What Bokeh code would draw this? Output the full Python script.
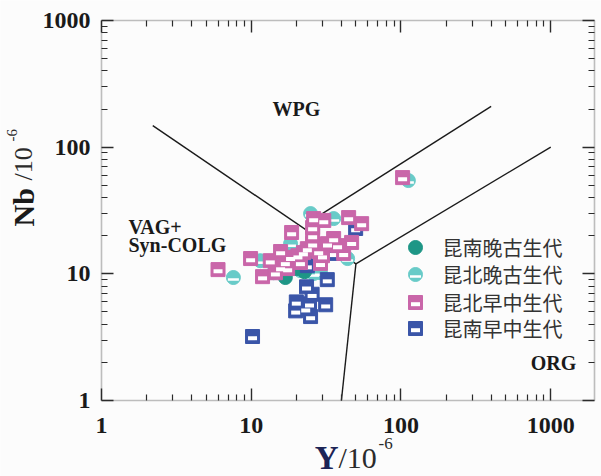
import math
import numpy as np
from bokeh.plotting import figure
from bokeh.models import LogAxis, FixedTicker, Label, Range1d, BoxAnnotation
from bokeh.embed import file_html
from bokeh.resources import INLINE

# ---- Y (ppm) and Nb (ppm) by sample group ----
kn_late_pz_y = [16.9, 23.4, 22.7, 25.7, 20.1]
kn_late_pz_nb = [9.35, 11.9, 10.4, 12.3, 11.0]

kb_late_pz_y = [7.6, 112.0, 11.5, 14.1, 18.3, 22.0, 24.1, 26.1, 29.0, 35.5,
                40.7, 44.0, 16.7, 21.3, 24.9, 18.9, 15.2]
kb_late_pz_nb = [9.35, 54.5, 12.7, 10.2, 17.3, 15.0, 11.2, 10.05, 10.2, 27.3,
                 16.1, 13.2, 10.2, 10.6, 29.9, 11.6, 12.3]

kb_early_mz_y = [6.0, 9.9, 11.9, 18.6, 26.1, 30.5, 44.7, 54.6, 25.7, 35.5,
                 46.8, 29.0, 29.9, 41.4, 15.7, 13.4, 15.7, 18.3, 20.5, 23.7,
                 25.7, 32.3, 37.7, 14.5, 17.5, 21.3, 25.7, 102.5, 22.3, 16.9, 28.2]
kb_early_mz_nb = [10.8, 13.2, 9.5, 21.2, 27.3, 26.4, 27.8, 24.9, 20.1, 19.0,
                  17.7, 12.1, 13.9, 14.5, 15.0, 12.7, 11.2, 13.5, 13.9, 15.8,
                  17.3, 17.3, 16.7, 10.2, 11.0, 12.3, 23.2, 57.5, 14.7, 12.3, 15.0]

kn_early_mz_y = [10.2, 23.4, 32.2, 25.5, 20.0, 24.5, 31.4, 19.8, 23.1, 24.9,
                 49.8, 35.5, 23.7]
kn_early_mz_nb = [3.2, 7.9, 9.0, 6.9, 6.0, 5.8, 5.7, 5.1, 5.3, 4.6,
                  22.8, 14.5, 11.6]

legend_labels = ["昆南晚古生代", "昆北晚古生代", "昆北早中生代", "昆南早中生代"]

# ---- Pearce (1984) Nb-Y field boundaries ----
bound_vag_wpg_y, bound_vag_wpg_nb = [2.2, 50], [148, 12]
bound_wpg_org_y, bound_wpg_org_nb = [50, 1000], [12, 100]
bound_vag_org_y, bound_vag_org_nb = [50, 40], [12, 1]
bound_aorg_y, bound_aorg_nb = [30, 400], [30, 210]

major_ticks = [1, 10, 100, 1000]
tick_labels = ["1", "10", "100", "1000"]
minor_ticks = [m * d for d in (1, 10, 100) for m in range(2, 10)]

# ---- layout: the plot box sits inside a frame that spans the whole canvas ----
W, H = 601, 476
BOX_L, BOX_R, BOX_T, BOX_B = 101, 594, 20, 400
X_MIN, X_MAX, Y_MIN, Y_MAX = 1, 1960, 1, 1000
px_dec_x = (BOX_R - BOX_L) / math.log10(X_MAX / X_MIN)
px_dec_y = (BOX_B - BOX_T) / math.log10(Y_MAX / Y_MIN)


def at_screen(px, py):
    """Data coordinates of a canvas pixel."""
    return (X_MIN * 10 ** ((px - BOX_L) / px_dec_x),
            Y_MIN * 10 ** ((BOX_B - py) / px_dec_y))


def shift_y(vals, px):
    """Move log-scale values down by px screen pixels."""
    return list(np.asarray(vals) * 10 ** (-px / px_dec_y))


x0, y0 = at_screen(0, H)
x1, y1 = at_screen(W, 0)

BG = "#fcfcfc"
INK = "#2b2b2b"
SERIF = "Liberation Serif"

p = figure(width=W, height=H, x_axis_type="log", y_axis_type="log",
           x_axis_location=None, y_axis_location=None,
           x_range=Range1d(x0, x1), y_range=Range1d(y0, y1),
           output_backend="svg", toolbar_location=None,
           min_border=0, min_border_left=0, min_border_right=0,
           min_border_top=0, min_border_bottom=0,
           background_fill_color=BG, border_fill_color=BG)
p.grid.visible = False
p.outline_line_color = None

ticker = FixedTicker(ticks=major_ticks, minor_ticks=minor_ticks)


def box_axis(side, loc):
    ax = LogAxis(ticker=ticker, fixed_location=loc)
    ax.major_tick_in = 12
    ax.major_tick_out = 0
    ax.minor_tick_in = 6
    ax.minor_tick_out = 0
    ax.major_tick_line_color = INK
    ax.minor_tick_line_color = INK
    ax.major_tick_line_width = 1.4
    ax.minor_tick_line_width = 1.2
    ax.axis_line_color = None
    ax.major_label_text_font_size = "0px"
    ax.major_label_text_alpha = 0
    ax.major_label_standoff = 0
    p.add_layout(ax, side)


box_axis("below", Y_MIN)
box_axis("left", X_MIN)
box_axis("above", Y_MAX)
box_axis("right", X_MAX)

p.add_layout(BoxAnnotation(left=X_MIN, right=X_MAX, bottom=Y_MIN, top=Y_MAX,
                           fill_alpha=0, line_color=INK, line_width=1.6))

# tick labels
for t, s in zip(major_ticks, tick_labels):
    p.add_layout(Label(x=t, y=Y_MIN, y_offset=-17, text=s, text_align="center",
                       text_baseline="top", text_font=SERIF, text_font_style="bold",
                       text_font_size="24px", text_color="#1a1a1a"))
    p.add_layout(Label(x=X_MIN, y=t, x_offset=-11, text=s, text_align="right",
                       text_baseline="middle", text_font=SERIF, text_font_style="bold",
                       text_font_size="24px", text_color="#1a1a1a"))

# field boundaries
for bx, by in [(bound_vag_wpg_y, bound_vag_wpg_nb), (bound_wpg_org_y, bound_wpg_org_nb),
               (bound_vag_org_y, bound_vag_org_nb), (bound_aorg_y, bound_aorg_nb)]:
    p.line(bx, by, line_color="#1a1a1a", line_width=1.4)

# field names
for txt, (px, py), align in [("WPG", (296, 108), "center"), ("VAG+", (128, 226), "left"),
                             ("Syn-COLG", (128, 244), "left"), ("ORG", (553, 362), "center")]:
    lx, ly = at_screen(px, py)
    p.add_layout(Label(x=lx, y=ly, text=txt, text_align=align, text_baseline="middle",
                       text_font=SERIF, text_font_style="bold", text_font_size="20px",
                       text_color="#1a1a1a"))

# marker styles
C_DARK_TEAL = "#1e9686"
C_LIGHT_TEAL = "#68cbc8"
C_PINK = "#c966a9"
C_BLUE = "#3a55a8"


def circle_mark(xs, ys, color, band):
    p.scatter(xs, ys, marker="circle", size=14, fill_color=color, line_color=color,
              line_width=1)
    if band:
        p.scatter(xs, shift_y(ys, 2), marker="dash", size=11, line_color="white",
                  line_width=2.5)


def square_mark(xs, ys, color):
    p.scatter(xs, ys, marker="square", size=14, fill_color=color, line_color=color,
              line_width=1)
    p.scatter(xs, shift_y(ys, 1.7), marker="dash", size=9, line_color="white",
              line_width=4)


circle_mark(kb_late_pz_y, kb_late_pz_nb, C_LIGHT_TEAL, True)
circle_mark(kn_late_pz_y, kn_late_pz_nb, C_DARK_TEAL, False)
square_mark(kn_early_mz_y, kn_early_mz_nb, C_BLUE)
square_mark(kb_early_mz_y, kb_early_mz_nb, C_PINK)

# legend
rows_py = [247, 274, 302, 328]
key_px, text_px = 415, 442
for i, (lab, py) in enumerate(zip(legend_labels, rows_py)):
    kx, ky = at_screen(key_px, py)
    if i == 0:
        circle_mark([kx], [ky], C_DARK_TEAL, False)
    elif i == 1:
        circle_mark([kx], [ky], C_LIGHT_TEAL, True)
    elif i == 2:
        square_mark([kx], [ky], C_PINK)
    else:
        square_mark([kx], [ky], C_BLUE)
    tx, ty = at_screen(text_px, py)
    p.add_layout(Label(x=tx, y=ty, text=lab, text_baseline="middle",
                       text_font="Noto Sans CJK SC", text_font_size="20px",
                       text_color="#333333"))


# axis titles, given by canvas pixel of the text anchor
def title_label(text, px, py, size, style="normal", color="#1a1a1a", angle=0.0,
                align="left"):
    lx, ly = at_screen(px, py)
    p.add_layout(Label(x=lx, y=ly, text=text, angle=angle, text_align=align,
                       text_baseline="alphabetic", text_font=SERIF,
                       text_font_style=style, text_font_size=size, text_color=color))


title_label("Y", 338, 457, "33px", "bold", "#1c2456", align="right")
title_label("/10", 338, 457, "30px", "normal", "#2b2b2b")
title_label("-6", 378, 443, "17px", "normal", "#2b2b2b")

title_label("Nb", 23, 226, "30px", "bold", "#1a1a1a", angle=math.pi / 2)
title_label("/10", 23, 180, "26px", "normal", "#2b2b2b", angle=math.pi / 2)
title_label("-6", 11, 141, "15px", "normal", "#2b2b2b", angle=math.pi / 2)

open("out.html", "w").write(file_html(p, INLINE))
